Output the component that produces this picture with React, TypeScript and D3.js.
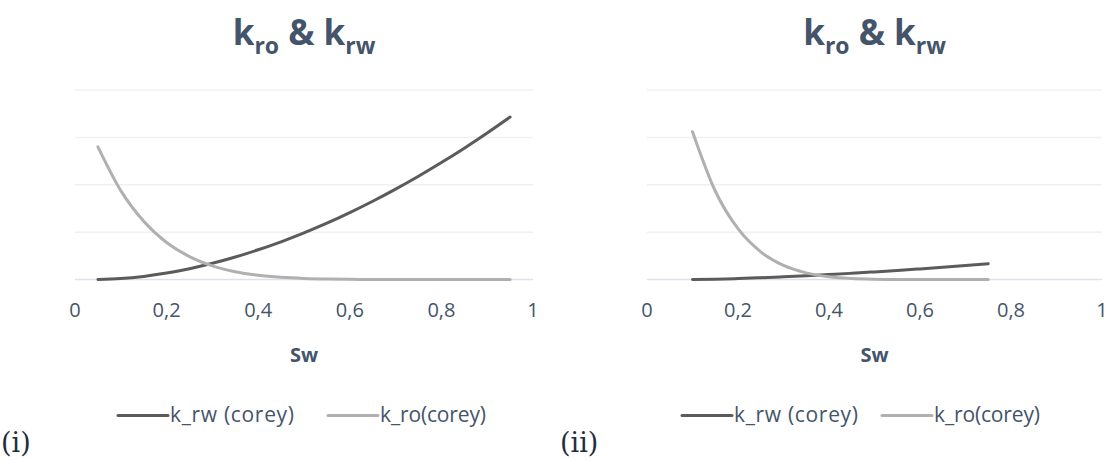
import React from "react";
import * as d3 from "d3";

// values (y in units of the top gridline = 1)
const xTicks = [0, 0.2, 0.4, 0.6, 0.8, 1];
const xTickLabels = ["0", "0,2", "0,4", "0,6", "0,8", "1"];
const yGrid = [0, 0.25, 0.5, 0.75, 1];

const swLeft = [0.05, 0.1, 0.15, 0.2, 0.25, 0.3, 0.35, 0.4, 0.45, 0.5, 0.55, 0.6, 0.65, 0.7, 0.75, 0.8, 0.85, 0.9, 0.95];
const krwLeft = [0, 0.0047, 0.0164, 0.034, 0.057, 0.0855, 0.1186, 0.157, 0.199, 0.246, 0.297, 0.353, 0.413, 0.477, 0.545, 0.617, 0.693, 0.773, 0.857];
const kroLeft = [0.7, 0.469, 0.307, 0.195, 0.121, 0.072, 0.041, 0.022, 0.0114, 0.0055, 0.0024, 0.0009, 0.0003, 0.0001, 0, 0, 0, 0, 0];

const swRight = [0.1, 0.15, 0.2, 0.25, 0.3, 0.35, 0.4, 0.45, 0.5, 0.55, 0.6, 0.65, 0.7, 0.75];
const krwRight = [0, 0.0018, 0.005, 0.0092, 0.0142, 0.0198, 0.026, 0.0328, 0.0401, 0.0478, 0.056, 0.0646, 0.0736, 0.083];
const kroRight = [0.78, 0.467, 0.268, 0.146, 0.074, 0.035, 0.0148, 0.0055, 0.0017, 0.0004, 0.0001, 0, 0, 0];

const seriesNames = ["k_rw (corey)", "k_ro(corey)"];
const seriesColors = ["#5b5b5b", "#b0b0b0"];

const textColor = "#44546a";
const font = "'Open Sans', 'Noto Sans', sans-serif";

function Chart({ x0, x1, sw, krw, kro, legendX, tag, tagX }) {
  const x = d3.scaleLinear().domain([0, 1]).range([x0, x1]);
  const y = d3.scaleLinear().domain([0, 1]).range([279.5, 90]);
  const line = d3
    .line<number>()
    .x((d, i) => x(sw[i]))
    .y((d) => y(d))
    .curve(d3.curveMonotoneX);
  const cx = (x0 + x1) / 2;

  return (
    <g>
      <text x={cx} y={45} textAnchor="middle" fill={textColor} fontFamily={font} fontWeight="bold" fontSize={35}>
        k<tspan fontSize={23} dy={9}>ro</tspan>
        <tspan dy={-9}> &amp; k</tspan>
        <tspan fontSize={23} dy={9}>rw</tspan>
      </text>

      {yGrid.map((g, i) => (
        <line key={i} x1={x0} x2={x1} y1={y(g)} y2={y(g)} stroke={i === 0 ? "#dde2ea" : "#f0f0f0"} strokeWidth={1.5} />
      ))}

      {xTicks.map((t, i) => (
        <text key={i} x={x(t)} y={317} textAnchor="middle" fill={textColor} fontFamily={font} fontSize={20}>
          {xTickLabels[i]}
        </text>
      ))}
      <text x={cx} y={362} textAnchor="middle" fill={textColor} fontFamily={font} fontWeight="bold" fontSize={20}>
        Sw
      </text>

      <path d={line(krw) || ""} fill="none" stroke={seriesColors[0]} strokeWidth={3} strokeLinecap="round" />
      <path d={line(kro) || ""} fill="none" stroke={seriesColors[1]} strokeWidth={3} strokeLinecap="round" />

      {seriesNames.map((n, i) => {
        const lx = legendX[i];
        return (
          <g key={n}>
            <line x1={lx} x2={lx + 50} y1={415.5} y2={415.5} stroke={seriesColors[i]} strokeWidth={3} strokeLinecap="round" />
            <text x={lx + 52} y={422} fill={textColor} fontFamily={font} fontSize={21} textLength={i === 0 ? 124 : 106}>
              {n}
            </text>
          </g>
        );
      })}

      <text x={tagX} y={452} fill="#1f2d3d" fontFamily="'DejaVu Serif', serif" fontSize={27}>
        {tag}
      </text>
    </g>
  );
}

export default function App() {
  return (
    <svg width={1110} height={460} style={{ position: "absolute", left: 0, top: 0, background: "#fff" }}>
      <Chart x0={75} x1={533} sw={swLeft} krw={krwLeft} kro={kroLeft} legendX={[118, 328]} tag="(i)" tagX={1} />
      <Chart x0={647} x1={1102} sw={swRight} krw={krwRight} kro={kroRight} legendX={[682, 882]} tag="(ii)" tagX={560} />
    </svg>
  );
}
